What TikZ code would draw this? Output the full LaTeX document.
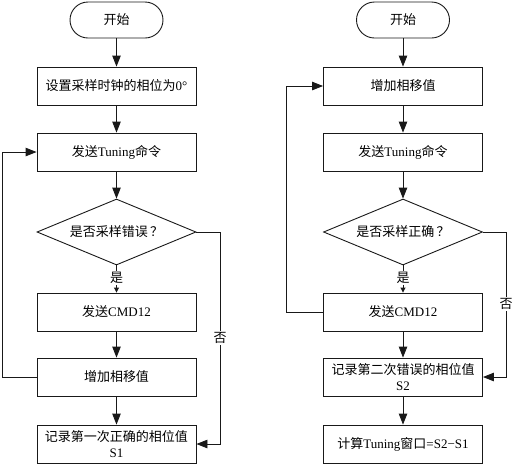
\documentclass[tikz,border=0pt]{standalone}
\usepackage{fontspec}
\setmainfont{Liberation Serif}
\newfontfamily\cjk{Noto Sans CJK SC}
\usetikzlibrary{shapes.geometric,arrows.meta}
\tikzset{
  line/.style={draw=black!90, line width=0.9pt},
  arr/.style={line, -{Triangle[length=11pt,width=8.5pt]}},
  sarr/.style={line, -{Triangle[length=5pt,width=5pt]}},
  box/.style={line, rectangle, minimum width=159pt, minimum height=38pt, inner sep=1pt, align=center, font=\fontsize{13}{16}\selectfont},
  term/.style={line, rectangle, rounded corners=18pt, minimum width=93pt, minimum height=36pt, font=\fontsize{13}{16}\selectfont},
  dec/.style={line, diamond, aspect=2.4, minimum width=159pt, minimum height=66pt, inner sep=0pt, font=\fontsize{13}{16}\selectfont},
  lab/.style={font=\fontsize{13}{14}\selectfont, inner sep=1pt, fill=white},
}
\begin{document}
\begin{tikzpicture}[x=1pt,y=-1pt]
\useasboundingbox (0,0) rectangle (520,467);
% left column
\node[term] (ls) at (116.5,20) {\cjk 开始};
\node[box] (l1) at (116.5,86) {{\cjk 设置采样时钟的相位为}0°};
\node[box] (l2) at (116.5,152) {{\cjk 发送}Tuning{\cjk 命令}};
\node[dec] (ld) at (116.5,232) {{\cjk 是否采样错误}\,{\cjk ？}};
\node[lab] (ly) at (116.5,278) {\cjk 是};
\node[box] (l3) at (116.5,312) {{\cjk 发送}CMD12};
\node[box] (l4) at (116.5,377) {\cjk 增加相移值};
\node[box] (l5) at (116.5,444) {{\cjk 记录第一次正确的相位值}\\S1};
\coordinate (lla) at (2,377);
\coordinate (llb) at (2,152);
\coordinate (lna) at (220,232);
\coordinate (lnb) at (220,444);
\draw[arr] (ls) -- (l1);
\draw[arr] (l1) -- (l2);
\draw[arr] (l2) -- (ld);
\draw[line] (ld.south) -- (ly.north);
\draw[sarr] (ly.south) -- (l3.north);
\draw[arr] (l3) -- (l4);
\draw[arr] (l4) -- (l5);
\draw[arr] (l4.west) -- (lla) -- (llb) -- (l2.west);
\draw[arr] (ld.east) -- (lna) -- (lnb) -- (l5.east);
\node[lab] (lno) at (220,338) {\cjk 否};
% right column
\node[term] (rs) at (403,20) {\cjk 开始};
\node[box] (r1) at (403,86) {\cjk 增加相移值};
\node[box] (r2) at (403,152) {{\cjk 发送}Tuning{\cjk 命令}};
\node[dec] (rd) at (403,232) {{\cjk 是否采样正确}\,{\cjk ？}};
\node[lab] (ry) at (403,278) {\cjk 是};
\node[box] (r3) at (403,312) {{\cjk 发送}CMD12};
\node[box] (r4) at (403,377) {{\cjk 记录第二次错误的相位值}\\S2};
\node[box] (r5) at (403,444) {{\cjk 计算}Tuning{\cjk 窗口}=S2−S1};
\coordinate (rla) at (286,312);
\coordinate (rlb) at (286,86);
\coordinate (rna) at (506,232);
\coordinate (rnb) at (506,377);
\draw[arr] (rs) -- (r1);
\draw[arr] (r1) -- (r2);
\draw[arr] (r2) -- (rd);
\draw[line] (rd.south) -- (ry.north);
\draw[sarr] (ry.south) -- (r3.north);
\draw[arr] (r3) -- (r4);
\draw[arr] (r4) -- (r5);
\draw[arr] (r3.west) -- (rla) -- (rlb) -- (r1.west);
\draw[arr] (rd.east) -- (rna) -- (rnb) -- (r4.east);
\node[lab] (rno) at (506,304) {\cjk 否};
\end{tikzpicture}
\end{document}
